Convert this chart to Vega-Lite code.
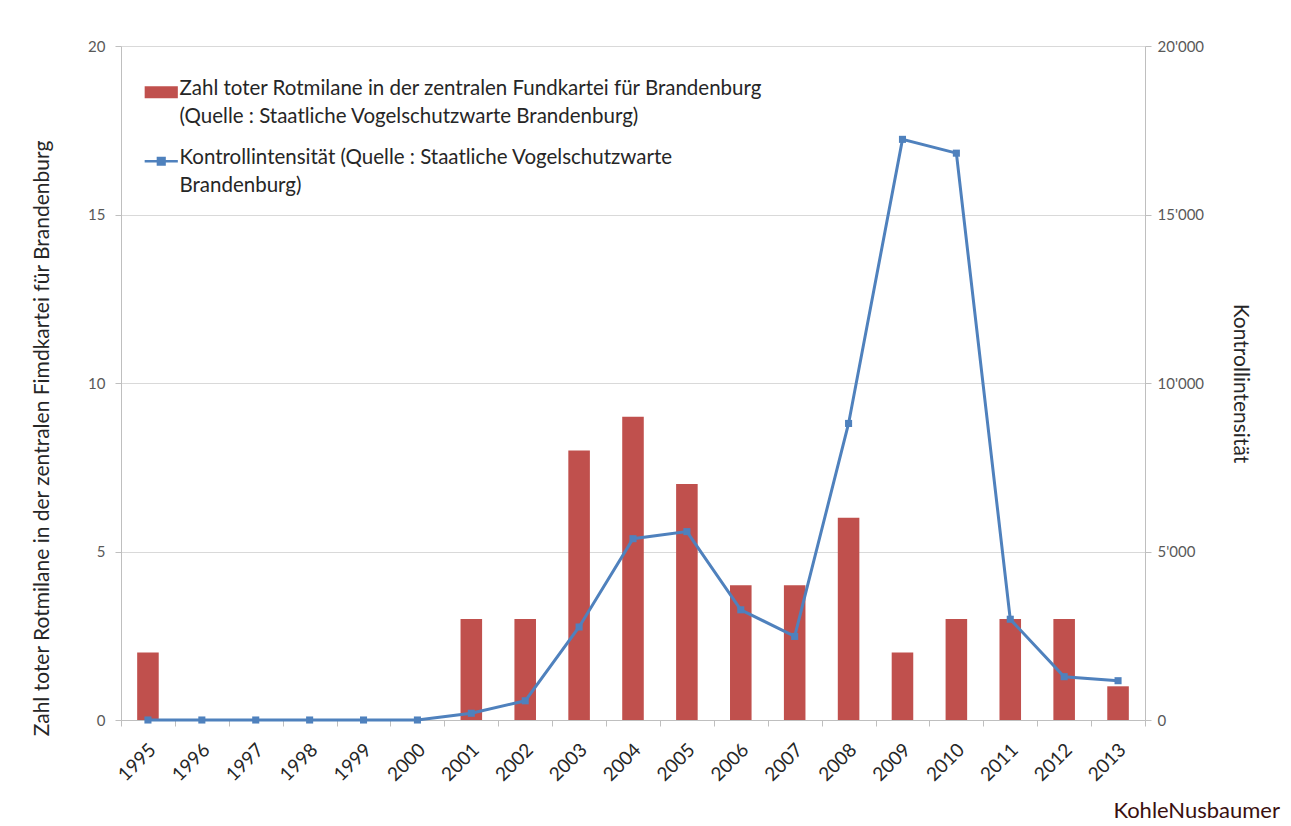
{
  "$schema": "https://vega.github.io/schema/vega-lite/v6.json",
  "width": 1024,
  "height": 674,
  "autosize": "none",
  "padding": {"left": 121, "top": 46, "right": 146, "bottom": 106},
  "background": "white",
  "config": {
    "font": "Lato",
    "view": {"stroke": null},
    "axis": {"titleFontWeight": "normal", "domainColor": "#a6a6a6", "tickColor": "#a6a6a6"}
  },
  "title": {
    "text": "KohleNusbaumer",
    "orient": "bottom",
    "anchor": "end",
    "frame": "group",
    "fontSize": 22,
    "fontWeight": "normal",
    "color": "#3a1010",
    "offset": 16,
    "dx": 135
  },
  "data": {
    "values": [
      {"year": "1995", "tote": 2, "kontroll": 0},
      {"year": "1996", "tote": 0, "kontroll": 0},
      {"year": "1997", "tote": 0, "kontroll": 0},
      {"year": "1998", "tote": 0, "kontroll": 0},
      {"year": "1999", "tote": 0, "kontroll": 0},
      {"year": "2000", "tote": 0, "kontroll": 0},
      {"year": "2001", "tote": 3, "kontroll": 200},
      {"year": "2002", "tote": 3, "kontroll": 570},
      {"year": "2003", "tote": 8, "kontroll": 2760},
      {"year": "2004", "tote": 9, "kontroll": 5380},
      {"year": "2005", "tote": 7, "kontroll": 5590},
      {"year": "2006", "tote": 4, "kontroll": 3270},
      {"year": "2007", "tote": 4, "kontroll": 2480},
      {"year": "2008", "tote": 6, "kontroll": 8800},
      {"year": "2009", "tote": 2, "kontroll": 17230},
      {"year": "2010", "tote": 3, "kontroll": 16820},
      {"year": "2011", "tote": 3, "kontroll": 2990},
      {"year": "2012", "tote": 3, "kontroll": 1285},
      {"year": "2013", "tote": 1, "kontroll": 1166}
    ]
  },
  "encoding": {
    "x": {
      "field": "year",
      "type": "nominal",
      "sort": null,
      "scale": {"paddingInner": 0, "paddingOuter": 0},
      "axis": {
        "title": null,
        "labelAngle": -45,
        "labelAlign": "right",
        "labelBaseline": "top",
        "labelFontSize": 19,
        "labelColor": "#262626",
        "labelPadding": 14,
        "labelOffset": -2,
        "tickBand": "extent",
        "tickSize": 6,
        "grid": false,
        "domainColor": "#bfbfbf",
        "tickColor": "#bfbfbf"
      }
    }
  },
  "layer": [
    {
      "mark": {"type": "bar", "width": {"band": 0.4}, "color": "#C0504D"},
      "encoding": {
        "y": {
          "field": "tote",
          "type": "quantitative",
          "scale": {"domain": [0, 20], "nice": false},
          "axis": {
            "values": [0, 5, 10, 15, 20],
            "title": "Zahl toter Rotmilane in der zentralen Fimdkartei für Brandenburg",
            "titleFontSize": 21,
            "titleColor": "#262626",
            "titleX": -79,
            "titleY": 392,
            "titleAngle": -90,
            "titleAlign": "center",
            "titleBaseline": "middle",
            "labelFontSize": 15,
            "labelColor": "#595959",
            "labelPadding": 10,
            "tickSize": 6,
            "grid": true,
            "gridColor": "#d9d9d9",
            "domainColor": "#bfbfbf",
            "tickColor": "#bfbfbf"
          }
        },
        "color": {
          "datum": "tote",
          "type": "nominal",
          "scale": {"domain": ["tote", "kontrolle"], "range": ["#C0504D", "#4F81BD"]},
          "legend": {
            "title": null,
            "orient": "none",
            "legendX": 30,
            "legendY": 36,
            "direction": "vertical",
            "labelFontSize": 20.5,
            "labelColor": "#262626",
            "labelLimit": 1000,
            "labelOffset": 8,
            "rowPadding": 20,
            "symbolSize": 1100,
            "labelExpr": "datum.value == 'tote' ? ['Zahl toter Rotmilane in der zentralen Fundkartei für Brandenburg', '(Quelle : Staatliche Vogelschutzwarte Brandenburg)'] : ['Kontrollintensität (Quelle : Staatliche Vogelschutzwarte', 'Brandenburg)']",
            "encode": {
              "symbols": {
                "update": {
                  "shape": {"signal": "datum.value == 'tote' ? 'M-1,-0.36H1V0.36H-1Z' : 'M-1,0H1M-0.2,-0.2H0.2V0.2H-0.2Z'"},
                  "fill": {"signal": "datum.value == 'tote' ? '#C0504D' : '#4F81BD'"},
                  "stroke": {"signal": "datum.value == 'tote' ? '#C0504D' : '#4F81BD'"},
                  "strokeWidth": {"signal": "datum.value == 'tote' ? 0 : 2.5"},
                  "size": {"value": 1100},
                  "opacity": {"value": 1}
                }
              },
              "labels": {
                "update": {
                  "lineHeight": {"value": 28},
                  "baseline": {"value": "top"},
                  "dy": {"value": -13}
                }
              }
            }
          }
        }
      }
    },
    {
      "mark": {
        "type": "line",
        "color": "#4F81BD",
        "strokeWidth": 3,
        "interpolate": "linear",
        "point": {"filled": true, "shape": "square", "size": 50, "color": "#4F81BD", "opacity": 1}
      },
      "encoding": {
        "y": {
          "field": "kontroll",
          "type": "quantitative",
          "scale": {"domain": [0, 20000], "nice": false},
          "axis": {
            "orient": "right",
            "values": [0, 5000, 10000, 15000, 20000],
            "labelExpr": "replace(format(datum.value, ','), ',', \"'\")",
            "title": "Kontrollintensität",
            "titleFontSize": 21,
            "titleColor": "#262626",
            "titlePadding": 26,
            "labelFontSize": 15,
            "labelColor": "#595959",
            "labelPadding": 6,
            "tickSize": 6,
            "grid": false,
            "domainColor": "#bfbfbf",
            "tickColor": "#bfbfbf"
          }
        },
        "color": {"datum": "kontrolle", "type": "nominal"}
      }
    }
  ],
  "resolve": {"scale": {"y": "independent"}}
}
